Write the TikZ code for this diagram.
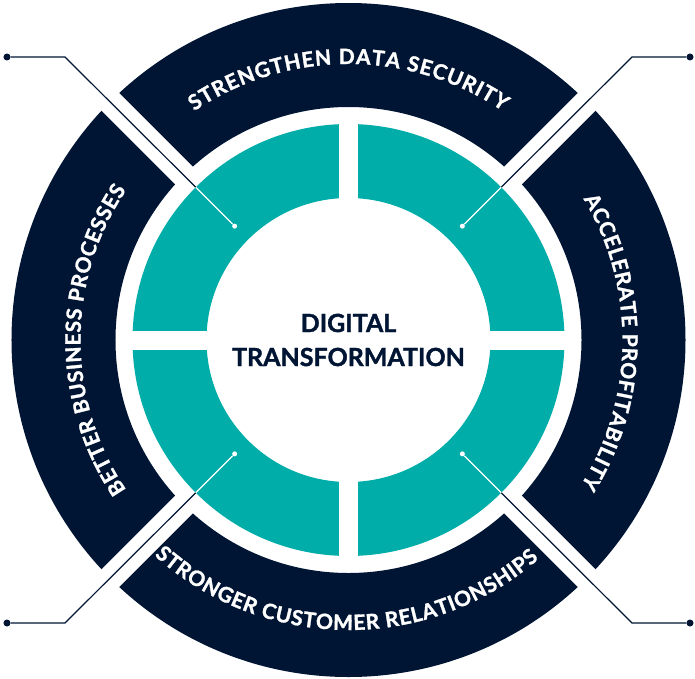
\documentclass[tikz,border=0pt]{standalone}
\usepackage{fontspec}
\setmainfont{Lato}[BoldFeatures={FakeBold=1.4}]
\usetikzlibrary{decorations.text}
\definecolor{ringnavy}{RGB}{0,21,51}
\definecolor{ringteal}{RGB}{0,173,168}

\begin{document}
\begin{tikzpicture}[x=1pt, y=1pt,
gapline/.style={white, line width=#1},
link/.style={ringnavy, line width=1.2pt},
outdot/.style={circle, fill=ringnavy, inner sep=0pt, minimum size=7pt},
indot/.style={circle, fill=white, inner sep=0pt, minimum size=5pt},
arctext/.style={decorate, decoration={text along path, text align=fit to path,
  text={|\color{white}\bfseries\fontsize{21}{21}\selectfont|#1}}},
]
\useasboundingbox (-348.5,-338) rectangle (346.5,340);

\fill[ringnavy, even odd rule] (0,0) circle[radius=337] (0,0) circle[radius=233];
\draw[gapline=25pt] (45:225) -- (45:350);
\draw[gapline=25pt] (135:225) -- (135:350);
\draw[gapline=25pt] (225:225) -- (225:350);
\draw[gapline=25pt] (315:225) -- (315:350);

\fill[ringteal, even odd rule] (0,0) circle[radius=216] (0,0) circle[radius=142];
\draw[gapline=19pt] (0:130) -- (0:225);
\draw[gapline=19pt] (90:130) -- (90:225);
\draw[gapline=19pt] (180:130) -- (180:225);
\draw[gapline=19pt] (270:130) -- (270:225);

\path[arctext={STRENGTHEN DATA SECURITY}] (124:276) arc[start angle=124, end angle=56, radius=276];
\path[arctext={ACCELERATE PROFITABILITY}] (31:274) arc[start angle=31, end angle=-32, radius=274];
\path[arctext={STRONGER CUSTOMER RELATIONSHIPS}] (228:290) arc[start angle=228, end angle=311, radius=290];
\path[arctext={BETTER BUSINESS PROCESSES}] (214:268) arc[start angle=214, end angle=146, radius=268];

\node[ringnavy, font=\bfseries\fontsize{25}{34}\selectfont, align=center] (title) at (0,0) {DIGITAL\\TRANSFORMATION};

\node[outdot] (tlOut) at (-341.5,283) {};
\node[outdot] (trOut) at (341.5,283) {};
\node[outdot] (blOut) at (-341.5,-283) {};
\node[outdot] (brOut) at (341.5,-283) {};
\coordinate (tlBend) at (-283.5,283);
\coordinate (trBend) at (283.5,283);
\coordinate (blBend) at (-283.5,-283);
\coordinate (brBend) at (283.5,-283);
\coordinate (tlEdge) at (135:216);
\coordinate (trEdge) at (45:216);
\coordinate (blEdge) at (225:216);
\coordinate (brEdge) at (315:216);
\node[indot] (tlIn) at (135:161) {};
\node[indot] (trIn) at (45:161) {};
\node[indot] (blIn) at (225:161) {};
\node[indot] (brIn) at (315:161) {};

\draw[link] (tlOut) -- (tlBend) -- (tlEdge);
\draw[link] (trOut) -- (trBend) -- (trEdge);
\draw[link] (blOut) -- (blBend) -- (blEdge);
\draw[link] (brOut) -- (brBend) -- (brEdge);
\draw[link, white] (tlEdge) -- (tlIn);
\draw[link, white] (trEdge) -- (trIn);
\draw[link, white] (blEdge) -- (blIn);
\draw[link, white] (brEdge) -- (brIn);
\end{tikzpicture}
\end{document}
